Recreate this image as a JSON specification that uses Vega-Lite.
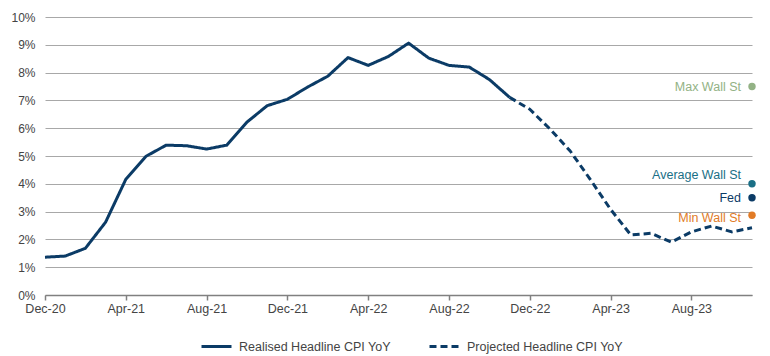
{
  "$schema": "https://vega.github.io/schema/vega-lite/v6.json",
  "width": 707,
  "height": 278,
  "autosize": {"type": "none"},
  "padding": {"left": 45, "top": 17, "right": 18, "bottom": 61},
  "background": "white",
  "config": {
    "view": {"stroke": null},
    "font": "Liberation Sans",
    "axis": {"labelFont": "Liberation Sans", "labelFontSize": 12, "labelColor": "#444444"},
    "legend": {"labelFont": "Liberation Sans", "labelFontSize": 12.5, "labelColor": "#444444"}
  },
  "datasets": {
    "cpi": [
      {"month": "Dec-20", "value": 1.36, "series": "Realised Headline CPI YoY"},
      {"month": "Jan-21", "value": 1.40, "series": "Realised Headline CPI YoY"},
      {"month": "Feb-21", "value": 1.68, "series": "Realised Headline CPI YoY"},
      {"month": "Mar-21", "value": 2.62, "series": "Realised Headline CPI YoY"},
      {"month": "Apr-21", "value": 4.16, "series": "Realised Headline CPI YoY"},
      {"month": "May-21", "value": 4.99, "series": "Realised Headline CPI YoY"},
      {"month": "Jun-21", "value": 5.39, "series": "Realised Headline CPI YoY"},
      {"month": "Jul-21", "value": 5.37, "series": "Realised Headline CPI YoY"},
      {"month": "Aug-21", "value": 5.25, "series": "Realised Headline CPI YoY"},
      {"month": "Sep-21", "value": 5.39, "series": "Realised Headline CPI YoY"},
      {"month": "Oct-21", "value": 6.22, "series": "Realised Headline CPI YoY"},
      {"month": "Nov-21", "value": 6.81, "series": "Realised Headline CPI YoY"},
      {"month": "Dec-21", "value": 7.04, "series": "Realised Headline CPI YoY"},
      {"month": "Jan-22", "value": 7.48, "series": "Realised Headline CPI YoY"},
      {"month": "Feb-22", "value": 7.87, "series": "Realised Headline CPI YoY"},
      {"month": "Mar-22", "value": 8.54, "series": "Realised Headline CPI YoY"},
      {"month": "Apr-22", "value": 8.26, "series": "Realised Headline CPI YoY"},
      {"month": "May-22", "value": 8.58, "series": "Realised Headline CPI YoY"},
      {"month": "Jun-22", "value": 9.06, "series": "Realised Headline CPI YoY"},
      {"month": "Jul-22", "value": 8.52, "series": "Realised Headline CPI YoY"},
      {"month": "Aug-22", "value": 8.26, "series": "Realised Headline CPI YoY"},
      {"month": "Sep-22", "value": 8.20, "series": "Realised Headline CPI YoY"},
      {"month": "Oct-22", "value": 7.75, "series": "Realised Headline CPI YoY"},
      {"month": "Nov-22", "value": 7.11, "series": "Realised Headline CPI YoY"},
      {"month": "Nov-22", "value": 7.11, "series": "Projected Headline CPI YoY"},
      {"month": "Dec-22", "value": 6.68, "series": "Projected Headline CPI YoY"},
      {"month": "Jan-23", "value": 5.97, "series": "Projected Headline CPI YoY"},
      {"month": "Feb-23", "value": 5.18, "series": "Projected Headline CPI YoY"},
      {"month": "Mar-23", "value": 4.15, "series": "Projected Headline CPI YoY"},
      {"month": "Apr-23", "value": 3.08, "series": "Projected Headline CPI YoY"},
      {"month": "May-23", "value": 2.16, "series": "Projected Headline CPI YoY"},
      {"month": "Jun-23", "value": 2.22, "series": "Projected Headline CPI YoY"},
      {"month": "Jul-23", "value": 1.90, "series": "Projected Headline CPI YoY"},
      {"month": "Aug-23", "value": 2.27, "series": "Projected Headline CPI YoY"},
      {"month": "Sep-23", "value": 2.48, "series": "Projected Headline CPI YoY"},
      {"month": "Oct-23", "value": 2.27, "series": "Projected Headline CPI YoY"},
      {"month": "Nov-23", "value": 2.42, "series": "Projected Headline CPI YoY"}
    ],
    "forecasts": [
      {"month": "Nov-23", "value": 7.5, "label": "Max Wall St"},
      {"month": "Nov-23", "value": 4.0, "label": "Average Wall St"},
      {"month": "Nov-23", "value": 3.5, "label": "Fed"},
      {"month": "Nov-23", "value": 2.87, "label": "Min Wall St"}
    ]
  },
  "encoding": {
    "x": {
      "field": "month",
      "type": "ordinal",
      "sort": null,
      "scale": {
        "type": "point",
        "padding": 0,
        "domain": ["Dec-20","Jan-21","Feb-21","Mar-21","Apr-21","May-21","Jun-21","Jul-21","Aug-21","Sep-21","Oct-21","Nov-21","Dec-21","Jan-22","Feb-22","Mar-22","Apr-22","May-22","Jun-22","Jul-22","Aug-22","Sep-22","Oct-22","Nov-22","Dec-22","Jan-23","Feb-23","Mar-23","Apr-23","May-23","Jun-23","Jul-23","Aug-23","Sep-23","Oct-23","Nov-23"]
      },
      "axis": {
        "title": null,
        "values": ["Dec-20","Apr-21","Aug-21","Dec-21","Apr-22","Aug-22","Dec-22","Apr-23","Aug-23"],
        "labelAngle": 0,
        "labelFontSize": 12.5,
        "labelPadding": 2,
        "domainColor": "#808080",
        "domainWidth": 1.5,
        "tickColor": "#808080",
        "tickWidth": 1.5,
        "tickSize": 5,
        "grid": false,
        "zindex": 1
      }
    },
    "y": {
      "field": "value",
      "type": "quantitative",
      "scale": {"domain": [0, 10], "nice": false, "zero": true},
      "axis": {
        "title": null,
        "values": [0,1,2,3,4,5,6,7,8,9,10],
        "labelExpr": "datum.value + '%'",
        "domain": false,
        "ticks": false,
        "labelPadding": 10,
        "grid": true,
        "gridColor": "#a8a8a8",
        "gridWidth": 1
      }
    }
  },
  "layer": [
    {
      "data": {"name": "cpi"},
      "mark": {"type": "line", "color": "#0b3b66", "strokeWidth": 3, "strokeJoin": "round"},
      "encoding": {
        "detail": {"field": "series"},
        "strokeDash": {
          "field": "series",
          "type": "nominal",
          "scale": {
            "domain": ["Realised Headline CPI YoY", "Projected Headline CPI YoY"],
            "range": [[1, 0], [7, 4]]
          },
          "legend": {
            "title": null,
            "orient": "none",
            "direction": "horizontal",
            "legendX": 155,
            "legendY": 313,
            "symbolType": "stroke",
            "symbolSize": 900,
            "symbolStrokeWidth": 3,
            "symbolStrokeColor": "#0b3b66",
            "labelOffset": 6,
            "columnPadding": 32
          }
        }
      }
    },
    {
      "data": {"name": "forecasts"},
      "mark": {"type": "circle", "size": 55, "opacity": 1},
      "encoding": {
        "color": {
          "field": "label",
          "type": "nominal",
          "scale": {
            "domain": ["Max Wall St", "Average Wall St", "Fed", "Min Wall St"],
            "range": ["#93b285", "#1a6f86", "#0b3b66", "#e17b27"]
          },
          "legend": null
        }
      }
    },
    {
      "data": {"name": "forecasts"},
      "transform": [{"filter": "datum.label == 'Max Wall St' || datum.label == 'Fed'"}],
      "mark": {"type": "text", "align": "right", "baseline": "middle", "dx": -11, "fontSize": 12.5, "font": "Liberation Sans"},
      "encoding": {
        "text": {"field": "label"},
        "color": {"field": "label", "type": "nominal", "legend": null}
      }
    },
    {
      "data": {"name": "forecasts"},
      "transform": [{"filter": "datum.label == 'Average Wall St'"}],
      "mark": {"type": "text", "align": "right", "baseline": "middle", "dx": -11, "dy": -9, "fontSize": 12.5, "font": "Liberation Sans"},
      "encoding": {
        "text": {"field": "label"},
        "color": {"field": "label", "type": "nominal", "legend": null}
      }
    },
    {
      "data": {"name": "forecasts"},
      "transform": [{"filter": "datum.label == 'Min Wall St'"}],
      "mark": {"type": "text", "align": "right", "baseline": "middle", "dx": -11, "dy": 2.5, "fontSize": 12.5, "font": "Liberation Sans"},
      "encoding": {
        "text": {"field": "label"},
        "color": {"field": "label", "type": "nominal", "legend": null}
      }
    }
  ]
}
